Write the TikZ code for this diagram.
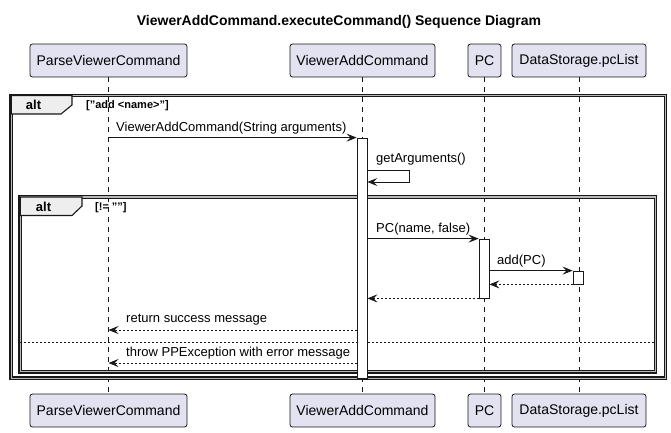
\documentclass[tikz,border=0pt]{standalone}
\usepackage{fontspec}
\setmainfont{Liberation Sans}
\usetikzlibrary{arrows.meta}
\definecolor{line}{HTML}{181818}
\definecolor{partfill}{HTML}{E2E2F0}
\definecolor{tabfill}{HTML}{EEEEEE}
\begin{document}
\begin{tikzpicture}[x=1pt,y=-1pt,
  part/.style={draw=line,fill=partfill,rounded corners=2.5pt,line width=0.8pt,minimum height=33pt,inner sep=0pt,font=\fontsize{14}{16}\selectfont},
  act/.style={draw=line,fill=white,line width=0.8pt,minimum width=10pt,inner sep=0pt},
  life/.style={draw=line,line width=0.5pt,dash pattern=on 5pt off 5pt},
  msg/.style={draw=line,line width=0.8pt,-{Stealth[length=10pt,width=8pt,inset=4pt]}},
  ret/.style={msg,dash pattern=on 2pt off 2pt},
  lbl/.style={anchor=west,inner sep=0pt,font=\fontsize{13}{15}\selectfont},
  guard/.style={anchor=west,inner sep=0pt,font=\bfseries\fontsize{11}{13}\selectfont},
  frame/.style={draw=line,double=gray!55,double distance=1.2pt,line width=1.2pt},
  tab/.style={draw=line,fill=tabfill,line width=1.1pt}]
  \useasboundingbox (0,0) rectangle (671,432);
  \node[font=\bfseries\fontsize{14}{16}\selectfont] (title) at (339,22) {ViewerAddCommand.executeCommand() Sequence Diagram};
  \node[part,minimum width=157pt] (pvc) at (108.5,60.5) {ParseViewerCommand};
  \node[part,minimum width=145pt] (vac) at (362.5,60.5) {ViewerAddCommand};
  \node[part,minimum width=33pt] (pc) at (484.5,60.5) {PC};
  \node[part,minimum width=134pt] (ds) at (579,60.5) {DataStorage.pcList};
  \node[part,minimum width=157pt] (pvc2) at (108.5,410.5) {ParseViewerCommand};
  \node[part,minimum width=145pt] (vac2) at (362.5,410.5) {ViewerAddCommand};
  \node[part,minimum width=33pt] (pc2) at (484.5,410.5) {PC};
  \node[part,minimum width=134pt] (ds2) at (579,410.5) {DataStorage.pcList};
  \draw[life] (pvc.south) -- (pvc2.north);
  \draw[life] (vac.south) -- (vac2.north);
  \draw[life] (pc.south) -- (pc2.north);
  \draw[life] (ds.south) -- (ds2.north);
  \draw[frame] (11.2,95.5) rectangle (665.3,378.2);
  \draw[tab] (11.2,95.5) -- (72,95.5) -- (72,105) -- (61,114) -- (11.2,114) -- cycle;
  \node[font=\bfseries\fontsize{13}{15}\selectfont] (alt1) at (33.5,105) {alt};
  \node[guard] (cond1) at (86,106) {["add <name>"]};
  \draw[frame] (20.2,197) rectangle (655.3,371.8);
  \draw[tab] (20.2,197) -- (82,197) -- (82,206) -- (72,215.5) -- (20.2,215.5) -- cycle;
  \node[font=\bfseries\fontsize{13}{15}\selectfont] (alt2) at (43.5,206.5) {alt};
  \node[guard] (cond2) at (95,208) {[!= ""]};
  \draw[draw=line,line width=0.8pt,dash pattern=on 2pt off 2pt] (20.2,342) -- (655.3,342);
  \node[act,minimum height=240pt] (a1) at (362,258) {};
  \node[act,minimum height=59pt] (a2) at (484,268.5) {};
  \node[act,minimum height=13pt] (a3) at (578,277.5) {};
  \coordinate (g1) at (409,170);
  \coordinate (g2) at (409,182);
  \coordinate (y1) at (0,330);
  \coordinate (y2) at (0,363);
  \draw[msg] (pvc |- a1.north) -- (a1.north west);
  \node[lbl] (t1) at (116,128) {ViewerAddCommand(String arguments)};
  \draw[msg] (a1.east |- g1) -- (g1) -- (g2) -- (a1.east |- g2);
  \node[lbl] (t2) at (376,159) {getArguments()};
  \draw[msg] (a1.east |- a2.north) -- (a2.north west);
  \node[lbl] (t3) at (376,229) {PC(name, false)};
  \draw[msg] (a2.east |- a3.north) -- (a3.north west);
  \node[lbl] (t4) at (497,261) {add(PC)};
  \draw[ret] (a3.south west) -- (a2.east |- a3.south);
  \draw[ret] (a2.south west) -- (a1.east |- a2.south);
  \draw[ret] (a1.west |- y1) -- (pvc |- y1);
  \node[lbl] (t5) at (126,320) {return success message};
  \draw[ret] (a1.west |- y2) -- (pvc |- y2);
  \node[lbl] (t6) at (126,353) {throw PPException with error message};
\end{tikzpicture}
\end{document}
